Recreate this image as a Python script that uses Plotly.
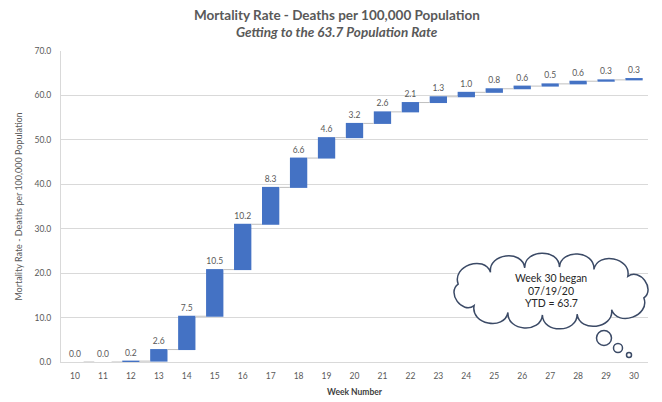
import numpy as np
import plotly.graph_objects as go

# Weekly increase in deaths per 100,000 population
weeks = [str(w) for w in range(10, 31)]
weekly_rate = [0.0, 0.0, 0.2, 2.6, 7.5, 10.5, 10.2, 8.3, 6.6, 4.6, 3.2,
               2.6, 2.1, 1.3, 1.0, 0.8, 0.6, 0.5, 0.6, 0.3, 0.3]
y_ticks = [0, 10, 20, 30, 40, 50, 60, 70]
note_lines = ["Week 30 began", "07/19/20", "YTD = 63.7"]

W, H = 662, 402
L, R, T, B = 61, 648, 51, 362

def px(x):
    return (x - L) / (R - L)

def py(y):
    return (B - y) / (B - T)

GRAY = "#595959"
FONT = "Lato"

fig = go.Figure(go.Waterfall(
    x=weeks,
    y=weekly_rate,
    measure=["relative"] * len(weekly_rate),
    text=[f"{v:.1f}" for v in weekly_rate],
    textposition="outside",
    textfont=dict(family=FONT, size=8.5, color=GRAY),
    increasing=dict(marker=dict(color="#4472C4")),
    decreasing=dict(marker=dict(color="#4472C4")),
    connector=dict(line=dict(color="#BFBFBF", width=1)),
    cliponaxis=False,
    hoverinfo="skip",
))

# Thought-bubble callout: scalloped bezier arcs spaced evenly around an ellipse
def cloud_path(cx, cy, a, b, n, k=0.55):
    s = np.linspace(0, 2 * np.pi, 2000)
    ex, ey = cx + a * np.cos(s), cy + b * np.sin(s)
    seg = np.hypot(np.diff(ex), np.diff(ey))
    cum = np.r_[0, np.cumsum(seg)]
    targets = np.linspace(0, cum[-1], n + 1) + cum[-1] * 0.02
    targets = np.mod(targets, cum[-1])
    idx = np.searchsorted(cum, targets).clip(0, len(s) - 1)
    pts = np.c_[ex[idx], ey[idx]]
    pts[-1] = pts[0]
    d = f"M {px(pts[0,0]):.5f},{py(pts[0,1]):.5f}"
    for p0, p1 in zip(pts[:-1], pts[1:]):
        chord = p1 - p0
        nrm = np.array([chord[1], -chord[0]])
        nrm /= np.linalg.norm(nrm)
        mid = (p0 + p1) / 2
        if np.dot(nrm, mid - np.array([cx, cy])) < 0:
            nrm = -nrm
        h = k * np.linalg.norm(chord)
        c1 = p0 + nrm * h
        c2 = p1 + nrm * h
        d += (f" C {px(c1[0]):.5f},{py(c1[1]):.5f} {px(c2[0]):.5f},{py(c2[1]):.5f}"
              f" {px(p1[0]):.5f},{py(p1[1]):.5f}")
    return d + " Z"

OUTLINE = "#3B4A66"
shapes = [dict(type="path", xref="paper", yref="paper",
               path=cloud_path(551, 291, 97, 24, 12),
               fillcolor="white", line=dict(color=OUTLINE, width=1.5), layer="above")]
for (bx, by, r) in [(604, 338, 7.5), (618, 348, 4.5), (629, 355, 2.5)]:
    shapes.append(dict(type="circle", xref="paper", yref="paper",
                       x0=px(bx - r), x1=px(bx + r), y0=py(by + r), y1=py(by - r),
                       fillcolor="white", line=dict(color=OUTLINE, width=1.5), layer="above"))

annotations = [
    dict(text="<b>Mortality Rate - Deaths per 100,000 Population</b>",
         xref="paper", yref="paper", x=px(337), y=py(15),
         xanchor="center", yanchor="middle", showarrow=False,
         font=dict(family=FONT, size=13.5, color=GRAY)),
    dict(text="<b><i>Getting to the 63.7 Population Rate</i></b>",
         xref="paper", yref="paper", x=px(337), y=py(32),
         xanchor="center", yanchor="middle", showarrow=False,
         font=dict(family=FONT, size=13.5, color=GRAY)),
]
for line, yy in zip(note_lines, [278, 291, 303]):
    annotations.append(dict(text=line, xref="paper", yref="paper",
                            x=px(551), y=py(yy), xanchor="center", yanchor="middle",
                            showarrow=False,
                            font=dict(family=FONT, size=10.5, color="#262626")))

fig.update_layout(
    width=W, height=H,
    margin=dict(l=L, r=W - R, t=T, b=H - B),
    paper_bgcolor="white", plot_bgcolor="white",
    showlegend=False,
    waterfallgap=0.38,
    font=dict(family=FONT, color=GRAY),
    xaxis=dict(
        type="category",
        automargin=False,
        showgrid=False,
        showline=True, linecolor="#D9D9D9",
        tickfont=dict(size=8.5, color=GRAY),
        ticks="", ticklabelstandoff=6,
        title=dict(text="<b>Week Number</b>", font=dict(size=8.5, color="#404040"), standoff=8),
    ),
    yaxis=dict(
        range=[0, 70],
        automargin=False,
        tickvals=y_ticks, tickformat=".1f",
        showgrid=True, gridcolor="#D9D9D9", gridwidth=1,
        showline=True, linecolor="#D9D9D9",
        zeroline=False,
        tickfont=dict(size=8.5, color=GRAY),
        ticklabelstandoff=7,
        title=dict(text="Mortality Rate - Deaths per 100,000 Population",
                   font=dict(size=9, color=GRAY), standoff=10),
    ),
    shapes=shapes,
    annotations=annotations,
)

fig.write_html("out.html")
